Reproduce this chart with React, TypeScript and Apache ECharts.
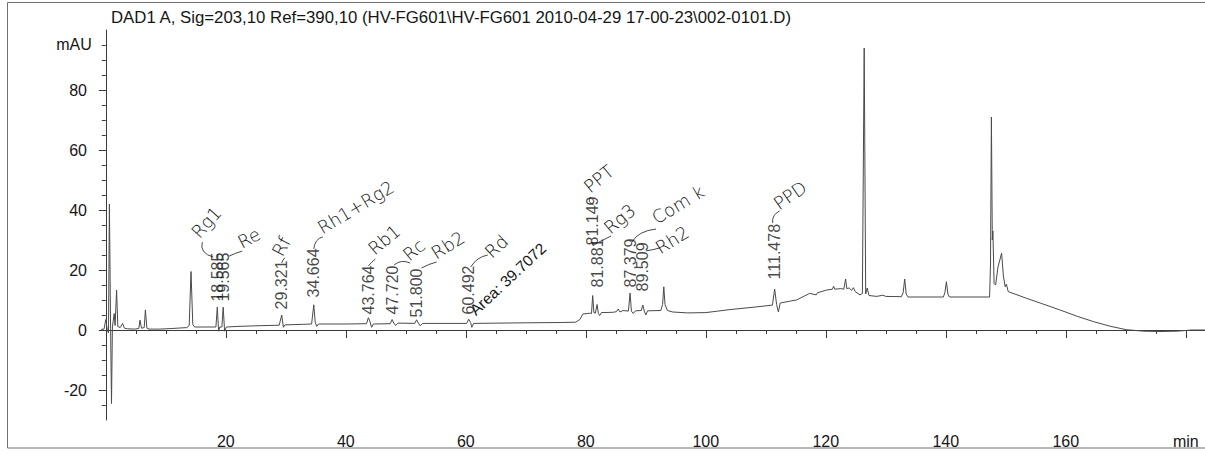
import React, { useEffect, useRef } from 'react';
import * as echarts from 'echarts';

const TITLE =
  'DAD1 A, Sig=203,10 Ref=390,10 (HV-FG601\\HV-FG601 2010-04-29 17-00-23\\002-0101.D)';

const FONT = '"Liberation Sans", Arial, Helvetica, sans-serif';
const HAND = '"DejaVu Sans", sans-serif';
const INK = '#161616';
const TRACE = '#4a4a4a';

// Integrated peaks: retention time as printed (min), apex height (mAU),
// and the height (mAU) where the printed retention time starts.
const peakRT = ['18.585', '19.565', '29.321', '34.664', '43.764', '47.720', '51.800', '60.492', '81.149', '81.881', '87.379', '89.509', '111.478'];
const peakApex = [7.6, 7.6, 5.0, 8.4, 4.1, 3.5, 3.4, 3.6, 11.5, 8.5, 12.3, 8.3, 13.6];
const labelBase = [9.3, 9.3, 6.7, 10.7, 5.0, 5.0, 4.0, 5.0, 28.0, 14.0, 14.0, 12.7, 16.7];

// Hand-written compound names next to the peaks
const noteText = ['Rg1', 'Re', 'Rf', 'Rh1+Rg2', 'Rb1', 'Rc', 'Rb2', 'Rd', 'PPT', 'Rg3', 'Com k', 'Rh2', 'PPD'];

// Detector trace (min, mAU) apart from the integrated apexes
const traceStart = [
  [-0.8, 0.2], [-0.3, 0.3], [0.0, 3.5], [0.25, 0.0], [0.45, -1.0], [0.6, 42.0], [0.8, 0.5],
  [0.95, -24.5], [1.1, 1.0], [1.4, 5.5], [1.55, 1.5], [1.8, 13.3], [2.0, 1.2], [2.4, 0.8],
  [2.8, 2.2], [3.1, 0.6], [3.6, 0.4], [4.8, 0.3], [5.5, 0.5], [5.7, 3.3], [5.95, 0.6],
  [6.4, 0.8], [6.6, 6.7], [6.85, 0.6], [7.2, 0.3], [9.0, 0.3], [11.0, 0.5], [13.5, 0.8],
  [13.9, 1.5], [14.2, 19.5], [14.5, 1.8], [14.8, 1.0], [17.0, 1.0],
];
const traceMid = [
  [18.35, 1.0], [18.8, -0.4], [19.0, 1.0], [19.35, 1.0], [19.8, -0.4], [20.1, 1.0], [22, 1.2],
  [25, 1.4], [28.9, 1.6], [29.6, 0.9], [29.85, 1.7], [33, 1.9], [34.3, 2.0], [34.9, 2.6],
  [35.15, 1.2], [35.45, 2.0], [40, 2.0], [43.45, 2.1], [44.0, 3.0], [44.3, 0.9], [44.6, 2.0],
  [47.4, 2.1], [48.0, 2.3], [48.3, 1.5], [48.7, 2.3], [51.5, 2.2], [52.1, 2.3], [52.4, 1.4],
  [52.8, 2.2], [60.15, 2.2], [60.8, 2.5], [61.0, 0.9], [61.3, 2.2], [70, 2.4], [76, 2.5],
  [78.3, 2.6], [79.0, 3.5], [79.5, 5.3], [80.6, 5.6], [80.95, 5.5], [81.35, 5.8], [81.6, 5.6],
  [82.1, 5.5], [82.3, 4.8], [82.6, 5.8], [84.5, 5.9], [85.1, 6.1], [85.4, 7.0], [85.7, 6.0],
  [86.2, 6.5], [87.1, 6.3], [87.6, 6.3], [87.9, 5.5], [88.3, 6.4], [89.25, 6.5], [89.75, 6.3],
  [90.0, 5.0], [90.3, 6.4], [92.5, 6.5], [92.8, 8.5], [93.0, 14.4], [93.2, 8.5], [93.6, 6.5],
  [94.5, 6.0], [97, 5.7], [100, 5.8], [104, 6.8], [108, 7.6], [111.1, 8.3], [111.8, 8.5],
  [112.1, 6.0], [112.4, 9.0],
];
const traceEnd = [
  [114, 9.6], [115.1, 10.0], [117.3, 12.2], [118.4, 11.7], [118.6, 12.4], [120.1, 13.3],
  [121.1, 13.6], [121.3, 14.6], [121.5, 13.6], [122.5, 13.8], [123.0, 13.6], [123.3, 17.0],
  [123.5, 13.8], [123.9, 14.0], [124.3, 13.2], [124.6, 14.1], [124.9, 12.8], [125.7, 11.7],
  [126.1, 12.2], [126.4, 94.0], [126.65, 12.0], [126.9, 14.0], [127.2, 11.5], [128.5, 11.2],
  [129.5, 11.6], [130.0, 11.2], [132.6, 11.1], [132.9, 12.5], [133.15, 17.0], [133.4, 12.0],
  [133.7, 11.0], [139.6, 11.0], [139.85, 12.5], [140.1, 16.1], [140.35, 12.0], [140.6, 11.0],
  [147.3, 11.0], [147.45, 22.0], [147.6, 71.0], [147.75, 30.0], [147.85, 33.0], [148.05, 15.5],
  [148.3, 15.0], [148.7, 21.0], [149.3, 25.6], [149.6, 18.0], [149.9, 14.4], [150.1, 15.3],
  [150.4, 12.8], [153.4, 10.6], [156, 8.8], [159, 6.7], [162, 4.5], [164.6, 2.8], [167.5, 1.2],
  [170.1, 0.1], [173, -0.4], [175.7, -0.5], [178.5, -0.4], [181, 0.0], [183.2, 0.0],
];

const xLabelValues = [20, 40, 60, 80, 100, 120, 140, 160, 180];
const yLabelValues = [-20, 0, 20, 40, 60, 80];

const X_MIN = -0.8;
const X_MAX = 183.2;
const Y_MIN = -30;
const Y_MAX = 100;

const range = (a: number, b: number, step: number) => {
  const out: number[] = [];
  for (let v = a; v <= b + 1e-9; v += step) out.push(v);
  return out;
};

// Note placement relative to each printed retention time (pixels):
// text start offset, rotation (deg), leader curve [x1, y1, cx, cy, x2, y2]
const notePlacement: { dx: number; dy: number; rot: number; lead: number[] }[] = [
  { dx: -16, dy: -61, rot: 48, lead: [-4, -45, -18, -49, -15, -60] },
  { dx: 20, dy: -51, rot: 28, lead: [6, -46, 12, -49, 19, -51] },
  { dx: 3, dy: -51, rot: 62, lead: [0, -47, 1, -50, 3, -52] },
  { dx: 10, dy: -61, rot: 31, lead: [0, -49, 1, -59, 9, -61] },
  { dx: 8, dy: -57, rot: 40, lead: [0, -49, 3, -53, 7, -56] },
  { dx: 19, dy: -51, rot: 40, lead: [2, -50, 9, -56, 18, -52] },
  { dx: 21, dy: -56, rot: 32, lead: [5, -50, 12, -54, 20, -56] },
  { dx: 25, dy: -54, rot: 43, lead: [2, -48, 8, -58, 19, -60] },
  { dx: -1, dy: -50, rot: 39, lead: [1, -41, -6, -44, -2, -49] },
  { dx: 15, dy: -51, rot: 40, lead: [2, -46, 8, -49, 14, -52] },
  { dx: 28, dy: -61, rot: 31, lead: [2, -46, 8, -57, 26, -59] },
  { dx: 19, dy: -35, rot: 32, lead: [3, -41, 10, -42, 17, -44] },
  { dx: 6, dy: -67, rot: 35, lead: [-2, -57, -3, -65, 5, -69] },
];

const AREA_NOTE = 'Area: 39.7072';

export default function App() {
  const ref = useRef<HTMLDivElement>(null);

  useEffect(() => {
    if (!ref.current) return;
    const chart = echarts.init(ref.current, undefined, { renderer: 'svg' });

    const apexPoints = peakRT.map((t, i) => [Number(t), peakApex[i]]);
    const trace = [...traceStart, ...traceMid, ...traceEnd, ...apexPoints].sort((a, b) => a[0] - b[0]);

    const axisLine = { show: true, lineStyle: { color: '#3a3a3a', width: 1 } };
    const tickStyle = { color: '#3a3a3a', width: 1 };

    chart.setOption({
      animation: false,
      backgroundColor: '#ffffff',
      title: {
        text: TITLE,
        left: 106,
        top: 4,
        textStyle: { fontFamily: FONT, fontSize: 16.8, fontWeight: 'normal', color: INK },
      },
      grid: { left: 101, right: 0, top: 30, bottom: 34 },
      xAxis: [
        {
          type: 'value', min: X_MIN, max: X_MAX, position: 'bottom',
          axisLine,
          axisTick: { show: true, customValues: xLabelValues, length: 8, lineStyle: tickStyle },
          axisLabel: {
            customValues: xLabelValues, margin: 13, fontFamily: FONT, fontSize: 16, color: INK,
            formatter: (v: number) => (v === 180 ? 'min' : String(v)),
          },
          splitLine: { show: false },
        },
        {
          type: 'value', min: X_MIN, max: X_MAX, position: 'bottom',
          axisLine: { show: false },
          axisTick: { show: true, customValues: range(5, 180, 5), length: 4, lineStyle: tickStyle },
          axisLabel: { show: false },
          splitLine: { show: false },
        },
      ],
      yAxis: [
        {
          type: 'value', min: Y_MIN, max: Y_MAX, position: 'left',
          axisLine,
          axisTick: { show: true, customValues: yLabelValues, length: 7, lineStyle: tickStyle },
          axisLabel: { customValues: yLabelValues, margin: 14, fontFamily: FONT, fontSize: 16, color: INK },
          splitLine: { show: false },
          name: 'mAU',
          nameLocation: 'end',
          nameGap: -14,
          nameTextStyle: {
            fontFamily: FONT, fontSize: 16, color: INK, align: 'right', verticalAlign: 'middle',
            padding: [0, 14, 0, 0],
          },
        },
        {
          type: 'value', min: Y_MIN, max: Y_MAX, position: 'left',
          axisLine: { show: false },
          axisTick: { show: true, customValues: range(-25, 95, 5), length: 4, lineStyle: tickStyle },
          axisLabel: { show: false },
          splitLine: { show: false },
        },
      ],
      series: [
        {
          type: 'line',
          xAxisIndex: 0,
          yAxisIndex: 0,
          data: trace,
          showSymbol: false,
          symbol: 'none',
          clip: true,
          lineStyle: { color: TRACE, width: 1 },
          silent: true,
          z: 2,
        },
        {
          type: 'scatter',
          xAxisIndex: 0,
          yAxisIndex: 0,
          symbolSize: 1,
          itemStyle: { color: 'rgba(0,0,0,0)' },
          silent: true,
          data: peakRT.map((t, i) => [Number(t), labelBase[i]]),
          label: {
            show: true,
            position: 'top',
            distance: 0,
            rotate: 90,
            align: 'left',
            verticalAlign: 'middle',
            fontFamily: FONT,
            fontSize: 16,
            color: INK,
            formatter: (p: any) => peakRT[p.dataIndex],
          },
          labelLayout: { hideOverlap: false },
          z: 3,
        },
      ],
    });

    // Notes and leaders follow the printed retention times
    const graphics: any[] = [
      {
        type: 'rect',
        silent: true,
        shape: { x: 7.5, y: 2.5, width: 1215, height: 445.5 },
        style: { fill: 'none', stroke: '#707070', lineWidth: 1 },
      },
    ];
    peakRT.forEach((t, i) => {
      const pt = chart.convertToPixel({ xAxisIndex: 0, yAxisIndex: 0 }, [Number(t), labelBase[i]]);
      if (!pt) return;
      const [px, py] = pt as number[];
      const n = notePlacement[i];
      const [x1, y1, cx, cy, x2, y2] = n.lead;
      graphics.push({
        type: 'bezierCurve',
        silent: true,
        shape: { x1: px + x1, y1: py + y1, cpx1: px + cx, cpy1: py + cy, x2: px + x2, y2: py + y2 },
        style: { stroke: '#333333', lineWidth: 0.9, fill: 'none' },
      });
      graphics.push({
        type: 'text',
        silent: true,
        x: px + n.dx,
        y: py + n.dy,
        rotation: (n.rot * Math.PI) / 180,
        style: {
          text: noteText[i],
          fontFamily: HAND,
          fontSize: 18,
          fontWeight: 200,
          fill: '#111111',
          align: 'left',
          verticalAlign: 'bottom',
          textAlign: 'left',
          textVerticalAlign: 'bottom',
        },
      });
      if (peakRT[i] === '60.492') {
        graphics.push({
          type: 'text',
          silent: true,
          x: px + 9,
          y: py + 3,
          rotation: (43 * Math.PI) / 180,
          style: {
            text: AREA_NOTE,
            fontFamily: FONT,
            fontSize: 15.5,
            fill: INK,
            align: 'left',
            verticalAlign: 'bottom',
            textAlign: 'left',
            textVerticalAlign: 'bottom',
          },
        });
      }
    });
    chart.setOption({ graphic: graphics });

    return () => chart.dispose();
  }, []);

  return (
    <div
      ref={ref}
      style={{ position: 'fixed', left: 0, top: 0, width: 1205, height: 454, background: '#fff' }}
    />
  );
}
